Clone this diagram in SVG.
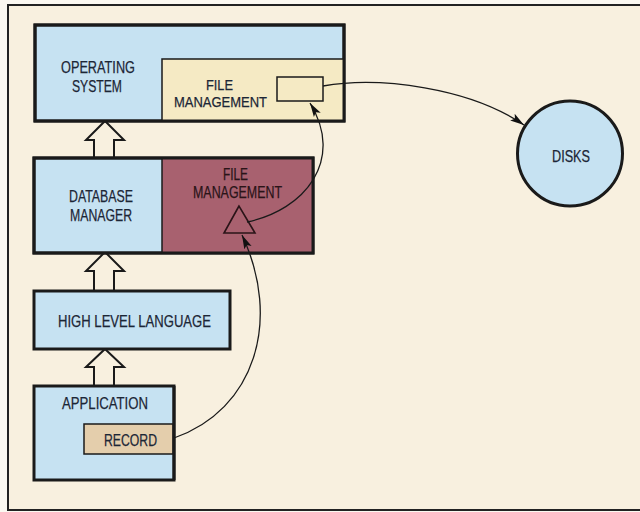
<svg xmlns="http://www.w3.org/2000/svg" width="640" height="512" viewBox="0 0 640 512">
<defs>
<style>
.box{stroke:#1a1a1a;stroke-width:3}
.blue{fill:#c6e2f2}
.t{font-family:"Liberation Sans",Arial,sans-serif;font-size:17px;fill:#1c2636;text-anchor:middle;stroke:#1c2636;stroke-width:0.25}
.s{font-size:15px}
.hollow{fill:#f8f0df;stroke:#1a1a1a;stroke-width:2;stroke-linejoin:miter}
.con{fill:none;stroke:#1a1a1a;stroke-width:1.3}
</style>
<marker id="ah" markerUnits="userSpaceOnUse" markerWidth="16" markerHeight="10" refX="14" refY="5" orient="auto">
<path d="M0,1 L14,5 L0,9 L3,5 z" fill="#111"/>
</marker>
</defs>
<rect x="0" y="0" width="640" height="512" fill="#fbf8f1"/>
<rect x="8" y="5" width="640" height="505" fill="#f8f0df" stroke="#222" stroke-width="2"/>

<g id="hollow-arrows">
<polygon class="hollow" points="105,121 124,140 114,140 114,160 94,160 94,140 86,140"/>
<polygon class="hollow" points="105,252 124,271 114,271 114,292 94,292 94,271 86,271"/>
<polygon class="hollow" points="105,349 124,367 114,367 114,387 94,387 94,367 86,367"/>
</g>

<g id="operating-system">
<rect class="box blue" x="35" y="25" width="309" height="96"/>
<text class="t" x="98" y="73" textLength="74" lengthAdjust="spacingAndGlyphs">OPERATING</text>
<text class="t" x="97" y="92" textLength="50" lengthAdjust="spacingAndGlyphs">SYSTEM</text>
</g>
<g id="os-file-management">
<rect x="162" y="59" width="182" height="62" fill="#f5eac4" stroke="#1a1a1a" stroke-width="1.5"/>
<rect class="box" x="35" y="25" width="309" height="96" fill="none"/>
<text class="t s" x="219.5" y="89.5" textLength="27" lengthAdjust="spacingAndGlyphs">FILE</text>
<text class="t s" x="220.5" y="106.5" textLength="93" lengthAdjust="spacingAndGlyphs">MANAGEMENT</text>
<rect x="277" y="77" width="46" height="24" fill="#f5eac4" stroke="#1a1a1a" stroke-width="1.5"/>
</g>

<g id="database-manager">
<rect class="box blue" x="34" y="158" width="279" height="95"/>
<text class="t" x="101" y="202" textLength="64" lengthAdjust="spacingAndGlyphs">DATABASE</text>
<text class="t" x="101" y="221" textLength="62" lengthAdjust="spacingAndGlyphs">MANAGER</text>
</g>
<g id="db-file-management">
<rect x="162" y="158" width="151" height="95" fill="#a8616f"/>
<line x1="162" y1="158" x2="162" y2="253" stroke="#1a1a1a" stroke-width="1.5"/>
<rect class="box" x="34" y="158" width="279" height="95" fill="none"/>
<text class="t" x="235.5" y="180" textLength="25" lengthAdjust="spacingAndGlyphs" style="fill:#2a1418;stroke:#2a1418">FILE</text>
<text class="t" x="237.5" y="198" textLength="89" lengthAdjust="spacingAndGlyphs" style="fill:#2a1418;stroke:#2a1418">MANAGEMENT</text>
<polygon points="239,206 224,233 255,233" fill="#a8616f" stroke="#2a1418" stroke-width="1.6"/>
</g>

<g id="high-level-language">
<rect class="box blue" x="34" y="291" width="196" height="58"/>
<text class="t" x="134.5" y="327" textLength="153" lengthAdjust="spacingAndGlyphs">HIGH LEVEL LANGUAGE</text>
</g>

<g id="application">
<rect class="box blue" x="34" y="386" width="140" height="94"/>
<text class="t" x="105" y="409" textLength="86" lengthAdjust="spacingAndGlyphs">APPLICATION</text>
</g>
<g id="record">
<rect x="84" y="424" width="89" height="30" fill="#e4ceac" stroke="#1a1a1a" stroke-width="1.5"/>
<line x1="174" y1="386" x2="174" y2="480" stroke="#1a1a1a" stroke-width="3"/>
<text class="t" x="130.5" y="446" textLength="53" lengthAdjust="spacingAndGlyphs">RECORD</text>
</g>

<g id="disks">
<circle cx="570" cy="153.5" r="52.5" fill="#c6e2f2" stroke="#1a1a1a" stroke-width="3"/>
<text class="t" x="571" y="162" textLength="38" lengthAdjust="spacingAndGlyphs">DISKS</text>
</g>

<g id="connectors">
<path class="con" d="M323,86 C380,76 470,88 524,125" marker-end="url(#ah)"/>
<path class="con" d="M247,222 C305,210 345,160 310,103" marker-end="url(#ah)"/>
<path class="con" d="M174,438 C255,410 282,320 242,235" marker-end="url(#ah)"/>
</g>
</svg>
